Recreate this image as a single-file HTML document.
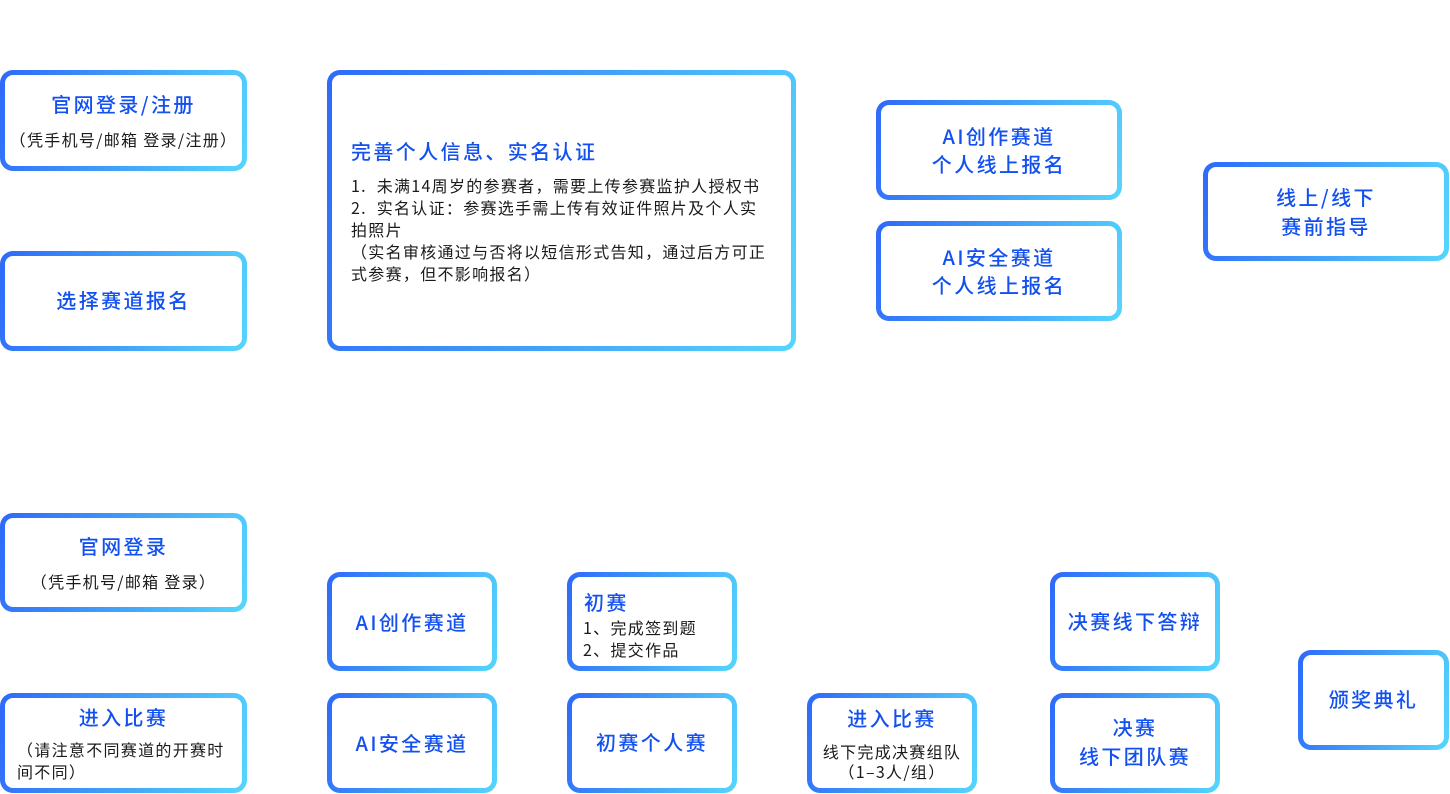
<!DOCTYPE html>
<html>
<head>
<meta charset="utf-8">
<style>
  html, body { margin:0; padding:0; background:#fff; }
  body { width:1450px; height:794px; position:relative; overflow:hidden;
         font-family:"Liberation Sans","Noto Sans CJK SC",sans-serif; }
  .b { position:absolute; box-sizing:border-box; border:5px solid transparent; border-radius:13px;
       background: linear-gradient(#fff,#fff) padding-box,
                   linear-gradient(105deg,#2f69fa 0%,#3f9af9 45%,#55d6fd 100%) border-box; }
  .t { position:absolute; white-space:nowrap; line-height:22px; height:22px;
       font-family:"Noto Sans CJK SC","WenQuanYi Zen Hei",sans-serif; }
  .h { font-size:20px; font-weight:500; letter-spacing:2.4px; color:#1250f0; }
  .s { font-size:16px; letter-spacing:1.3px; color:#1a1a1a; }
  .c { text-align:center; }
</style>
</head>
<body>
<!-- boxes -->
<div class="b" style="left:0;top:70px;width:247px;height:101px"></div>
<div class="b" style="left:0;top:251px;width:247px;height:100px"></div>
<div class="b" style="left:327px;top:70px;width:469px;height:281px"></div>
<div class="b" style="left:876px;top:100px;width:246px;height:100px"></div>
<div class="b" style="left:876px;top:221px;width:246px;height:100px"></div>
<div class="b" style="left:1203px;top:162px;width:246px;height:99px"></div>

<div class="b" style="left:0;top:513px;width:247px;height:99px"></div>
<div class="b" style="left:0;top:693px;width:247px;height:100px"></div>
<div class="b" style="left:327px;top:572px;width:170px;height:99px"></div>
<div class="b" style="left:327px;top:693px;width:170px;height:100px"></div>
<div class="b" style="left:567px;top:572px;width:170px;height:99px"></div>
<div class="b" style="left:567px;top:693px;width:170px;height:100px"></div>
<div class="b" style="left:807px;top:693px;width:170px;height:100px"></div>
<div class="b" style="left:1050px;top:572px;width:170px;height:99px"></div>
<div class="b" style="left:1050px;top:693px;width:170px;height:100px"></div>
<div class="b" style="left:1298px;top:650px;width:151px;height:100px"></div>

<!-- Box 1 -->
<div class="t h c" style="left:0;width:247px;top:93px">官网登录/注册</div>
<div class="t s c" style="left:0;width:247px;top:128px">（凭手机号/邮箱 登录/注册）</div>
<!-- Box 2 -->
<div class="t h c" style="left:0;width:247px;top:289px">选择赛道报名</div>
<!-- Box 3 -->
<div class="t h" style="left:351px;top:140px">完善个人信息、实名认证</div>
<div class="t s" style="left:351px;top:174px">1. &nbsp;未满14周岁的参赛者，需要上传参赛监护人授权书</div>
<div class="t s" style="left:351px;top:196px">2. &nbsp;实名认证：参赛选手需上传有效证件照片及个人实</div>
<div class="t s" style="left:351px;top:218px">拍照片</div>
<div class="t s" style="left:351px;top:240px">（实名审核通过与否将以短信形式告知，通过后方可正</div>
<div class="t s" style="left:351px;top:262px">式参赛，但不影响报名）</div>
<!-- Box 4 -->
<div class="t h c" style="left:876px;width:246px;top:125px">AI创作赛道</div>
<div class="t h c" style="left:876px;width:246px;top:153px">个人线上报名</div>
<!-- Box 5 -->
<div class="t h c" style="left:876px;width:246px;top:246px">AI安全赛道</div>
<div class="t h c" style="left:876px;width:246px;top:274px">个人线上报名</div>
<!-- Box 6 -->
<div class="t h c" style="left:1203px;width:246px;top:186px">线上/线下</div>
<div class="t h c" style="left:1203px;width:246px;top:215px">赛前指导</div>

<!-- Box 7 -->
<div class="t h c" style="left:0;width:247px;top:535px">官网登录</div>
<div class="t s c" style="left:0;width:247px;top:570px">（凭手机号/邮箱 登录）</div>
<!-- Box 8 -->
<div class="t h c" style="left:0;width:247px;top:706px">进入比赛</div>
<div class="t s" style="left:17px;top:738px">（请注意不同赛道的开赛时</div>
<div class="t s" style="left:17px;top:760px">间不同）</div>
<!-- Box 9 -->
<div class="t h c" style="left:327px;width:170px;top:611px">AI创作赛道</div>
<!-- Box 10 -->
<div class="t h c" style="left:327px;width:170px;top:732px">AI安全赛道</div>
<!-- Box 11 -->
<div class="t h" style="left:584px;top:591px">初赛</div>
<div class="t s" style="left:583px;top:616px">1、完成签到题</div>
<div class="t s" style="left:583px;top:638px">2、提交作品</div>
<!-- Box 12 -->
<div class="t h c" style="left:567px;width:170px;top:731px">初赛个人赛</div>
<!-- Box 13 -->
<div class="t h c" style="left:807px;width:170px;top:707px">进入比赛</div>
<div class="t s c" style="left:807px;width:170px;top:740px">线下完成决赛组队</div>
<div class="t s c" style="left:807px;width:170px;top:760px">（1–3人/组）</div>
<!-- Box 14 -->
<div class="t h c" style="left:1050px;width:170px;top:610px">决赛线下答辩</div>
<!-- Box 15 -->
<div class="t h c" style="left:1050px;width:170px;top:716px">决赛</div>
<div class="t h c" style="left:1050px;width:170px;top:745px">线下团队赛</div>
<!-- Box 16 -->
<div class="t h c" style="left:1298px;width:151px;top:688px">颁奖典礼</div>
</body>
</html>
